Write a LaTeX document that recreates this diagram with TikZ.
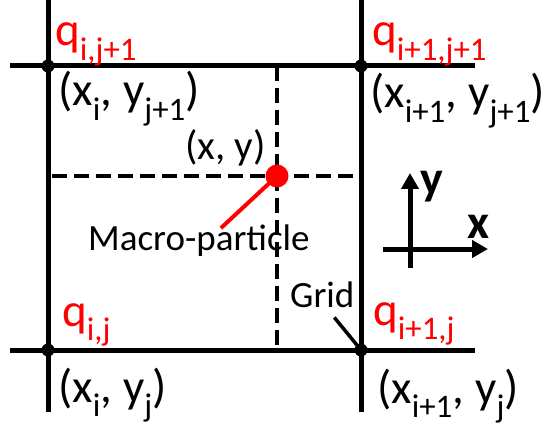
\documentclass[tikz,border=0pt]{standalone}
\usepackage{fontspec}
\setmainfont{Carlito}
\usetikzlibrary{arrows.meta,positioning,calc}
\definecolor{qred}{HTML}{FF0000}
\tikzset{
  gridline/.style={line width=5pt, draw=black},
  subline/.style={line width=3.5pt, dash pattern=on 15pt off 7pt},
  knot/.style={circle, fill=black, inner sep=0pt, minimum size=13pt},
  particle/.style={circle, fill=qred, inner sep=0pt, minimum size=23pt},
  chargelbl/.style={text=qred, font=\fontsize{47}{50}\selectfont, inner sep=0pt, anchor=base west},
  coordlbl/.style={font=\fontsize{47}{50}\selectfont, inner sep=0pt, anchor=base west},
  note/.style={font=\fontsize{37}{40}\selectfont, inner sep=0pt, anchor=base west},
  axislbl/.style={font=\bfseries\fontsize{48}{50}\selectfont, inner sep=0pt, anchor=base west},
  axisarr/.style={-{Triangle[length=16pt,width=17pt]}, line width=5pt},
}

\begin{document}
\begin{tikzpicture}[x=1pt,y=-1pt]
  \useasboundingbox (0,0) rectangle (548,430);
  % sub-cell lines through the particle
  \draw[subline] (277,66) -- (277,350);
  \draw[subline] (52,176) -- (361,176);
  % cell boundaries
  \draw[gridline] (48,0) -- (48,412);
  \draw[gridline] (361,0) -- (361,412);
  \draw[gridline] (10,66) -- (475,66);
  \draw[gridline] (10,350) -- (475,350);
  \node[knot] (k00) at (48,350) {};
  \node[knot] (k10) at (361,350) {};
  \node[knot] (k01) at (48,66) {};
  \node[knot] (k11) at (361,66) {};
  % charges and positions
  \node[chargelbl] (q01) at (55,46) {q\textsubscript{i,j+1}};
  \node[chargelbl] (q11) at (372,46) {q\textsubscript{i+1,j+1}};
  \node[chargelbl] (q00) at (62,326) {q\textsubscript{i,j}};
  \node[chargelbl] (q10) at (373,325) {q\textsubscript{i+1,j}};
  \node[coordlbl] (c01) at (58,106) {(x\textsubscript{i}, y\textsubscript{j+1})};
  \node[coordlbl] (c11) at (370,108) {(x\textsubscript{i+1}, y\textsubscript{j+1})};
  \node[coordlbl] (c00) at (58,402) {(x\textsubscript{i}, y\textsubscript{j})};
  \node[coordlbl] (c10) at (377,403) {(x\textsubscript{i+1}, y\textsubscript{j})};
  % macro-particle
  \node[particle] (pt) at (277,176) {};
  \node[note, font=\fontsize{41}{44}\selectfont] (pxy) at (185,160) {(x, y)};
  \node[note] (mp) at (88,250) {Macro-particle};
  \draw[qred, line width=4pt] (pt.center) -- ([xshift=22pt,yshift=-4pt]mp.north);
  % grid pointer
  \node[note] (gr) at (290,307) {Grid};
  \draw[line width=3.5pt] ([xshift=12pt,yshift=-10pt]gr.south) -- (k10.center);
  % axes
  \coordinate (o) at (410,249);
  \draw[axisarr] (410,268) -- (410,173);
  \draw[axisarr] (383,249) -- (488,249);
  \node[axislbl] (ylbl) at (420,195) {y};
  \node[axislbl] (xlbl) at (467,238) {x};
\end{tikzpicture}
\end{document}
